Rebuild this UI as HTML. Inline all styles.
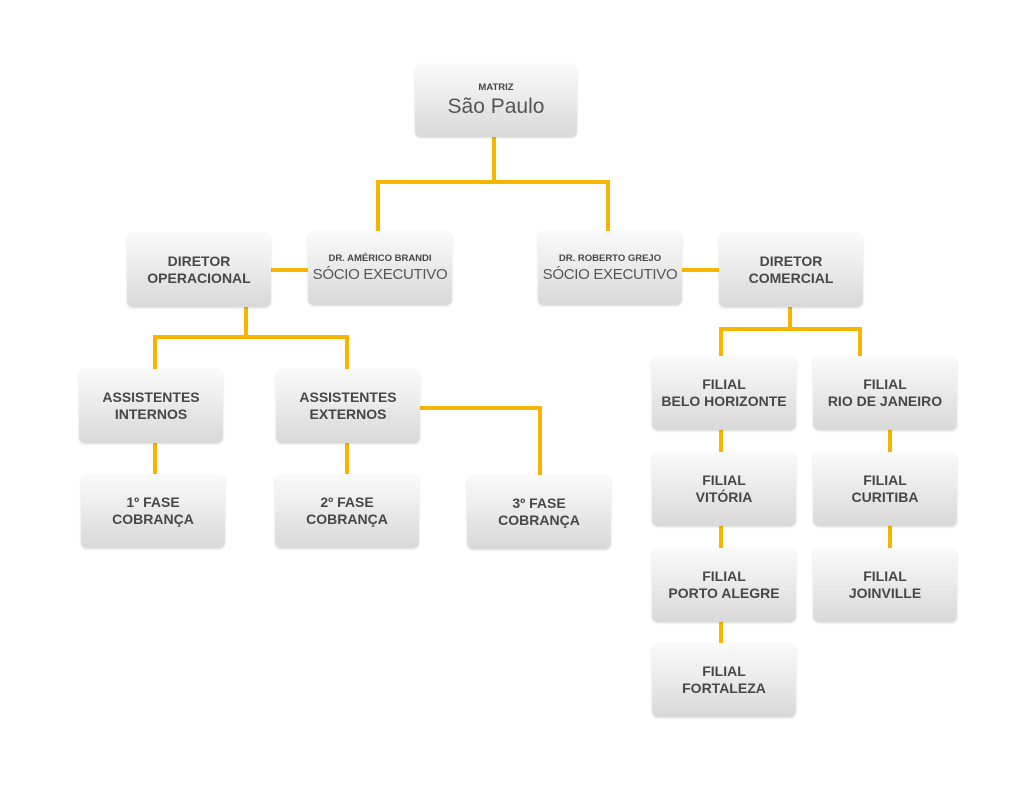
<!DOCTYPE html>
<html><head><meta charset="utf-8"><style>
body{margin:0;width:1024px;height:800px;background:#fff;position:relative;overflow:hidden;font-family:"Liberation Sans",sans-serif}
.b{position:absolute;width:144px;height:74px;border-radius:6px;background:linear-gradient(#fafafa,#ececec 45%,#e6e6e6 60%,#d9d9d9);box-shadow:0 1px 2px rgba(0,0,0,.15);display:flex;flex-direction:column;align-items:center;justify-content:center;text-align:center;color:#474747;font-weight:bold;font-size:14px;line-height:17px;white-space:nowrap}
.s{font-size:9.5px;line-height:13px}
.n{font-weight:normal;font-size:15px;line-height:19px;color:#555;letter-spacing:-0.3px}
.l{position:absolute;background:#f7b500}
</style></head><body>
<div class="l" style="left:492px;top:137px;width:4px;height:47px"></div>
<div class="l" style="left:376px;top:180px;width:234px;height:4px"></div>
<div class="l" style="left:376px;top:180px;width:4px;height:52px"></div>
<div class="l" style="left:606px;top:180px;width:4px;height:52px"></div>
<div class="l" style="left:270px;top:268px;width:40px;height:4px"></div>
<div class="l" style="left:682px;top:268px;width:38px;height:4px"></div>
<div class="l" style="left:244px;top:305px;width:4px;height:34px"></div>
<div class="l" style="left:153px;top:335px;width:196px;height:4px"></div>
<div class="l" style="left:153px;top:335px;width:4px;height:35px"></div>
<div class="l" style="left:345px;top:335px;width:4px;height:35px"></div>
<div class="l" style="left:153px;top:441px;width:4px;height:33px"></div>
<div class="l" style="left:345px;top:441px;width:4px;height:33px"></div>
<div class="l" style="left:419px;top:406px;width:123px;height:4px"></div>
<div class="l" style="left:538px;top:406px;width:4px;height:69px"></div>
<div class="l" style="left:788px;top:305px;width:4px;height:26px"></div>
<div class="l" style="left:719px;top:327px;width:143px;height:4px"></div>
<div class="l" style="left:719px;top:327px;width:4px;height:30px"></div>
<div class="l" style="left:858px;top:327px;width:4px;height:30px"></div>
<div class="l" style="left:719px;top:429px;width:4px;height:24px"></div>
<div class="l" style="left:719px;top:525px;width:4px;height:24px"></div>
<div class="l" style="left:719px;top:621px;width:4px;height:23px"></div>
<div class="l" style="left:888px;top:429px;width:4px;height:24px"></div>
<div class="l" style="left:888px;top:525px;width:4px;height:24px"></div>

<div class="b" style="left:415px;top:64px;width:162px;height:73px"><span class="s">MATRIZ</span><span class="n" style="font-size:21px;line-height:26px;letter-spacing:0">São Paulo</span></div>
<div class="b" style="left:127px;top:233px">DIRETOR<br>OPERACIONAL</div>
<div class="b" style="left:308px;top:231px"><span class="s">DR. AMÉRICO BRANDI</span><span class="n">SÓCIO EXECUTIVO</span></div>
<div class="b" style="left:538px;top:231px"><span class="s">DR. ROBERTO GREJO</span><span class="n">SÓCIO EXECUTIVO</span></div>
<div class="b" style="left:719px;top:233px">DIRETOR<br>COMERCIAL</div>
<div class="b" style="left:79px;top:369px">ASSISTENTES<br>INTERNOS</div>
<div class="b" style="left:276px;top:369px">ASSISTENTES<br>EXTERNOS</div>
<div class="b" style="left:81px;top:474px">1º FASE<br>COBRANÇA</div>
<div class="b" style="left:275px;top:474px">2º FASE<br>COBRANÇA</div>
<div class="b" style="left:467px;top:475px">3º FASE<br>COBRANÇA</div>
<div class="b" style="left:652px;top:356px">FILIAL<br>BELO HORIZONTE</div>
<div class="b" style="left:652px;top:452px">FILIAL<br>VITÓRIA</div>
<div class="b" style="left:652px;top:548px">FILIAL<br>PORTO ALEGRE</div>
<div class="b" style="left:652px;top:643px">FILIAL<br>FORTALEZA</div>
<div class="b" style="left:813px;top:356px">FILIAL<br>RIO DE JANEIRO</div>
<div class="b" style="left:813px;top:452px">FILIAL<br>CURITIBA</div>
<div class="b" style="left:813px;top:548px">FILIAL<br>JOINVILLE</div>
</body></html>
